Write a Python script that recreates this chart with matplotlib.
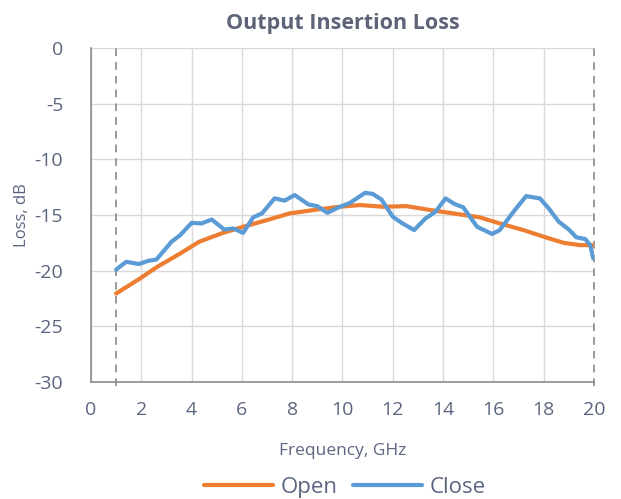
import matplotlib.pyplot as plt

# values
open_freq = [1.0, 1.95, 2.6, 3.55, 4.3, 5.25, 6.05, 7.0, 7.9, 9.0, 9.9, 10.7,
             11.6, 12.55, 13.5, 14.55, 15.45, 16.25, 17.2, 18.0, 18.8, 19.45, 19.9, 20.0]
open_loss = [-22.05, -20.7, -19.7, -18.45, -17.4, -16.6, -16.05, -15.45, -14.85, -14.5, -14.25, -14.1,
             -14.25, -14.2, -14.55, -14.9, -15.2, -15.75, -16.35, -16.95, -17.5, -17.7, -17.7, -17.75]

close_freq = [1.0, 1.4, 1.9, 2.3, 2.6, 3.2, 3.55, 4.0, 4.4, 4.8, 5.3, 5.65, 6.05, 6.45,
              6.8, 7.3, 7.7, 8.1, 8.65, 9.0, 9.4, 9.85, 10.3, 10.9, 11.2, 11.55, 12.0,
              12.35, 12.85, 13.3, 13.7, 14.1, 14.45, 14.8, 15.35, 15.95, 16.25, 16.8,
              17.3, 17.85, 18.2, 18.6, 19.0, 19.3, 19.65, 19.85, 19.97]
close_loss = [-19.9, -19.2, -19.4, -19.1, -19.0, -17.4, -16.8, -15.7, -15.75, -15.4, -16.3, -16.2,
              -16.6, -15.2, -14.85, -13.5, -13.7, -13.2, -14.05, -14.2, -14.8, -14.3, -13.9,
              -13.0, -13.1, -13.6, -15.15, -15.7, -16.35, -15.3, -14.7, -13.5, -14.0, -14.3,
              -16.05, -16.7, -16.35, -14.7, -13.3, -13.5, -14.4, -15.6, -16.3, -17.0, -17.15,
              -17.7, -18.9]

x_ticks = list(range(0, 21, 2))
y_ticks = list(range(-30, 1, 5))

plt.rcParams['font.family'] = ['Open Sans', 'DejaVu Sans']
plt.rcParams['axes.unicode_minus'] = False

fig = plt.figure(figsize=(6.21, 4.99), dpi=100)
ax = fig.add_axes([0.1465, 0.2345, 0.81, 0.669])

text_color = '#5c6580'

ax.plot(open_freq, open_loss, color='#ed7d31', lw=3, label='Open',
        solid_joinstyle='round', solid_capstyle='round', zorder=3)
ax.plot(close_freq, close_loss, color='#5b9bd5', lw=3, label='Close',
        solid_joinstyle='round', solid_capstyle='round', zorder=4)

# dashed band edges, drawn slightly past the bottom axis like the original
for xv in [1, 20]:
    ax.plot([xv, xv], [-30.4, 0], color='#7f7f7f', lw=1.1, ls=(0, (5, 4)),
            clip_on=False, zorder=2)

ax.set_xlim(0, 20)
ax.set_ylim(-30, 0)
ax.set_xticks(x_ticks)
ax.set_yticks(y_ticks)
ax.grid(True, color='#d9d9d9', lw=1)
ax.set_axisbelow(True)

for side in ['top', 'right']:
    ax.spines[side].set_visible(False)
for side in ['left', 'bottom']:
    ax.spines[side].set_color('#8c8c8c')
    ax.spines[side].set_linewidth(1.2)

ax.tick_params(length=0, labelsize=14, colors=text_color)
ax.tick_params(axis='x', pad=14)
ax.tick_params(axis='y', pad=20)

ax.set_xlabel('Frequency, GHz', fontsize=12.5, color=text_color, labelpad=17)
ax.set_ylabel('Loss, dB', fontsize=12, color=text_color, labelpad=3)
ax.set_title('Output Insertion Loss', fontsize=15.5, fontweight='bold',
             color='#5e6478', pad=14)

leg = fig.legend(loc='lower center', bbox_to_anchor=(0.555, -0.038), ncol=2,
                 frameon=False, fontsize=16, handlelength=3.1, handletextpad=0.35,
                 columnspacing=0.7)
for t in leg.get_texts():
    t.set_color(text_color)

fig.savefig('out.png', dpi=100)
